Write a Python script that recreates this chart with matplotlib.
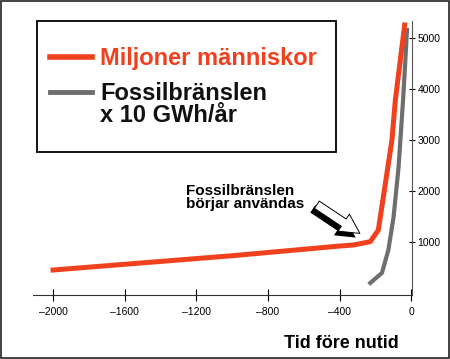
import matplotlib
matplotlib.use("Agg")
import matplotlib.pyplot as plt
import matplotlib.patheffects as pe
from matplotlib.patches import Rectangle
from matplotlib.lines import Line2D

# world population (millions) vs years before present
pop_x = [-2000, -1000, -400, -322, -229, -184, -108, -89, -37]
pop_y = [450, 730, 920, 941, 1006, 1235, 3000, 3784, 5255]
# fossil fuel use (x 10 GWh/year)
fos_x = [-229, -164, -128, -99, -71, -46, -30, -24]
fos_y = [196, 392, 843, 1490, 2470, 3784, 4765, 5157]
xticks = [-2000, -1600, -1200, -800, -400, 0]
yticks = [1000, 2000, 3000, 4000, 5000]

RED = "#f0401e"
GRAY = "#6e6e6e"
plt.rcParams["font.family"] = ["Liberation Sans", "DejaVu Sans"]

fig = plt.figure(figsize=(4.5, 3.59), dpi=100)
ax = fig.add_axes([0.0733, 0.1783, 0.9156 - 0.0733, 0.9415 - 0.1783])
ax.plot(pop_x, pop_y, color=RED, lw=3.6, solid_joinstyle="round", zorder=3)
ax.plot(fos_x, fos_y, color=GRAY, lw=3.0, solid_joinstyle="round", zorder=2)
ax.set_xlim(-2112, 4)
ax.set_ylim(-40, 5333)
for s in ["top", "left"]:
    ax.spines[s].set_visible(False)
ax.spines["bottom"].set_color("#333333")
ax.spines["right"].set_color("#555555")
ax.yaxis.tick_right()
ax.set_xticks(xticks)
ax.set_xticklabels([f"\u2013{abs(v)}" if v else "0" for v in xticks])
ax.set_yticks(yticks)
ax.tick_params(axis="x", direction="inout", length=8.5, width=0.8, pad=4.5, labelsize=7.5)
ax.tick_params(axis="y", direction="inout", length=4, width=0.8, pad=2, labelsize=7.5)
ax.patch.set_alpha(0)

fig.text(398.5 / 450, 1 - 348.5 / 359, "Tid före nutid", fontsize=13,
         fontweight="bold", ha="right", va="baseline")

# annotation
fig.text(186 / 450, 1 - 184 / 359, "Fossilbränslen\nbörjar användas", fontsize=11,
         fontweight="bold", ha="left", va="top", linespacing=0.95)
ax.annotate("", xy=(-274, 1137), xytext=(-540, 1760),
            arrowprops=dict(arrowstyle="simple,head_length=1.0,head_width=1.05,tail_width=0.45",
                            mutation_scale=14, fc="white", ec="black", lw=0.7,
                            path_effects=[pe.withSimplePatchShadow(offset=(-3, -3),
                                                                   shadow_rgbFace="black",
                                                                   alpha=1.0)]))

# legend box
fig.patches.append(Rectangle((37 / 450, 1 - 152 / 359), 299 / 450, 131 / 359,
                             transform=fig.transFigure, fill=False, ec="black", lw=1.3))
fig.lines.append(Line2D([50 / 450, 92 / 450], [1 - 57 / 359] * 2, transform=fig.transFigure,
                        color=RED, lw=4))
fig.lines.append(Line2D([50 / 450, 92 / 450], [1 - 92 / 359] * 2, transform=fig.transFigure,
                        color=GRAY, lw=3.5))
fig.text(100 / 450, 1 - 65 / 359, "Miljoner människor", color=RED, fontsize=17,
         fontweight="bold", va="baseline")
fig.text(100 / 450, 1 - 100 / 359, "Fossilbränslen", color="#111111", fontsize=17,
         fontweight="bold", va="baseline")
fig.text(100 / 450, 1 - 122 / 359, "x 10 GWh/år", color="#111111", fontsize=17,
         fontweight="bold", va="baseline")

# outer frame
fig.patches.append(Rectangle((0.002, 0.002), 0.996, 0.995, transform=fig.transFigure,
                             fill=False, ec="#222222", lw=1.2))
fig.savefig("out.png", dpi=100)
